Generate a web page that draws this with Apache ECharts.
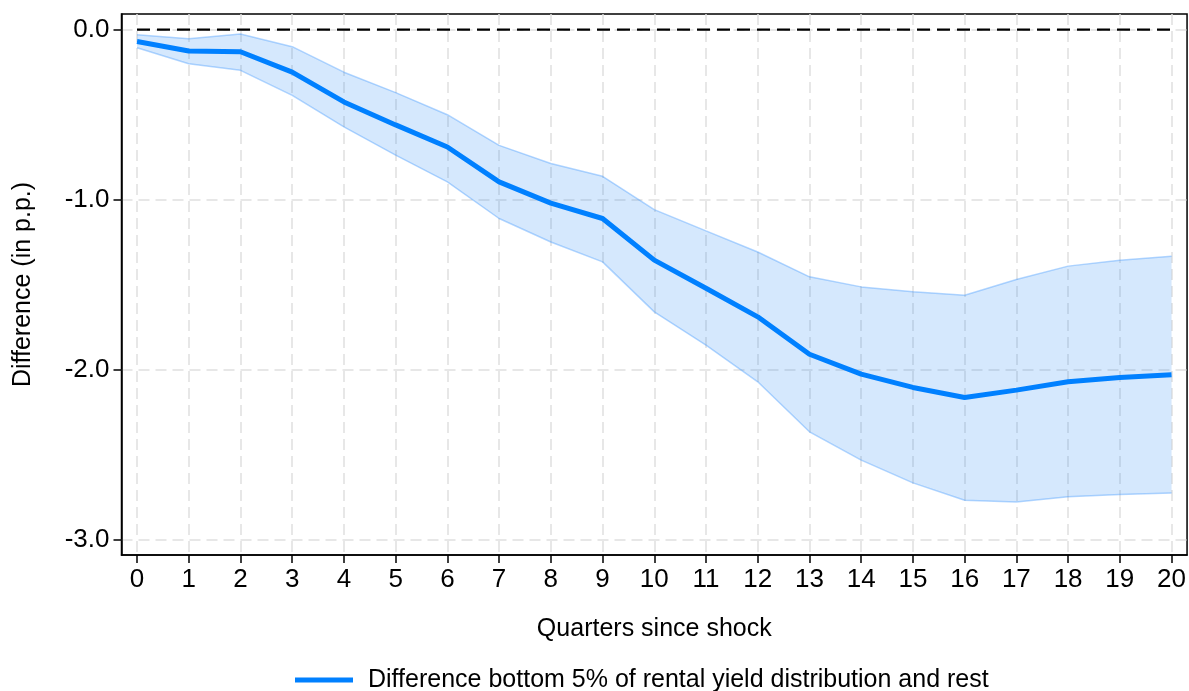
<!DOCTYPE html>
<html>
<head>
<meta charset="utf-8">
<script src="https://cdn.jsdelivr.net/npm/echarts@6/dist/echarts.min.js"></script>
<style>
  html, body { margin: 0; padding: 0; background: #fff; }
  #chart { width: 1189px; height: 691px; }
</style>
</head>
<body>
<div id="chart"></div>
<script>
// Quarters since the shock (x axis)
const quarters = [0, 1, 2, 3, 4, 5, 6, 7, 8, 9, 10, 11, 12, 13, 14, 15, 16, 17, 18, 19, 20];

// Point estimate of the difference (p.p.)
const estimate = [-0.07, -0.125, -0.13, -0.25, -0.425, -0.56, -0.69, -0.895, -1.02, -1.11,
                  -1.355, -1.52, -1.688, -1.908, -2.025, -2.103, -2.162, -2.119, -2.07, -2.045, -2.029];

// Upper and lower bounds of the confidence band
const upperBound = [-0.03, -0.053, -0.026, -0.10, -0.25, -0.37, -0.50, -0.68, -0.787, -0.862,
                    -1.058, -1.183, -1.307, -1.453, -1.512, -1.54, -1.561, -1.469, -1.39, -1.355, -1.332];
const lowerBound = [-0.106, -0.20, -0.239, -0.386, -0.572, -0.738, -0.895, -1.11, -1.248, -1.365,
                    -1.659, -1.855, -2.07, -2.364, -2.53, -2.664, -2.766, -2.776, -2.746, -2.732, -2.723];

// Tick positions
const xTicks = quarters.slice();
const yTicks = [0, -1, -2, -3];

const seriesName = 'Difference bottom 5% of rental yield distribution and rest';
const FONT = '"Liberation Sans", Arial, Helvetica, sans-serif';

const bandData = quarters.map((q, i) => [q, lowerBound[i], upperBound[i]]);
const upperData = quarters.map((q, i) => [q, upperBound[i]]);
const lowerData = quarters.map((q, i) => [q, lowerBound[i]]);
const estData = quarters.map((q, i) => [q, estimate[i]]);
const zeroData = [[quarters[0], 0], [quarters[quarters.length - 1], 0]];

const gridDash = { color: '#e0e0e0', width: 1.5, type: [11, 6] };
const bandEdge = { color: 'rgba(60,150,255,0.38)', width: 1.5 };

// Confidence band drawn as one polygon: upper bound left-to-right, lower bound back
function renderBand(params, api) {
  if (params.dataIndex !== 0) return null;
  const pts = [];
  for (let i = 0; i < bandData.length; i++) {
    pts.push(api.coord([bandData[i][0], bandData[i][2]]));
  }
  for (let i = bandData.length - 1; i >= 0; i--) {
    pts.push(api.coord([bandData[i][0], bandData[i][1]]));
  }
  return {
    type: 'polygon',
    shape: { points: pts },
    style: { fill: 'rgba(30,135,245,0.19)', stroke: null }
  };
}

const chart = echarts.init(document.getElementById('chart'), null, { renderer: 'canvas' });
chart.setOption({
  animation: false,
  backgroundColor: '#ffffff',
  textStyle: { fontFamily: FONT },
  grid: {
    left: 121.5, right: 1.5, top: 14, bottom: 136,
    show: true, borderColor: '#000', borderWidth: 1.5, backgroundColor: 'transparent'
  },
  legend: {
    data: [seriesName],
    left: 290, top: 662,
    icon: 'rect', itemWidth: 58, itemHeight: 5,
    textStyle: { fontSize: 25, color: '#000', fontFamily: FONT, padding: [0, 0, 0, 10], lineHeight: 26 }
  },
  xAxis: {
    type: 'value',
    min: -0.3, max: 20.3,
    name: 'Quarters since shock',
    nameLocation: 'middle',
    nameGap: 62,
    nameTextStyle: { fontSize: 25, color: '#000', fontFamily: FONT },
    axisLine: { show: true, onZero: false, lineStyle: { color: '#000', width: 1.5 } },
    axisTick: { show: true, length: 8, customValues: xTicks, lineStyle: { color: '#000', width: 1.5 } },
    axisLabel: { customValues: xTicks, fontSize: 26, color: '#000', margin: 12, fontFamily: FONT,
                 formatter: v => String(v) },
    splitLine: { show: true, lineStyle: gridDash }
  },
  yAxis: {
    type: 'value',
    min: -3.088, max: 0.092,
    name: 'Difference (in p.p.)',
    nameLocation: 'middle',
    nameGap: 86,
    nameTextStyle: { fontSize: 25, color: '#000', fontFamily: FONT },
    axisLine: { show: true, onZero: false, lineStyle: { color: '#000', width: 1.5 } },
    axisTick: { show: true, length: 8, customValues: yTicks, lineStyle: { color: '#000', width: 1.5 } },
    axisLabel: { customValues: yTicks, fontSize: 26, color: '#000', margin: 12, fontFamily: FONT,
                 formatter: v => v.toFixed(1) },
    splitLine: { show: true, lineStyle: gridDash }
  },
  series: [
    {
      name: 'band',
      type: 'custom',
      data: bandData,
      encode: { x: 0, y: [1, 2] },
      renderItem: renderBand,
      silent: true,
      z: 2
    },
    {
      name: 'upper',
      type: 'line',
      data: upperData,
      symbol: 'none',
      lineStyle: bandEdge,
      z: 2
    },
    {
      name: 'lower',
      type: 'line',
      data: lowerData,
      symbol: 'none',
      lineStyle: bandEdge,
      z: 2
    },
    {
      name: 'zero',
      type: 'line',
      data: zeroData,
      symbol: 'none',
      lineStyle: { color: '#000', width: 2.4, type: [13, 7] },
      z: 3
    },
    {
      name: seriesName,
      type: 'line',
      data: estData,
      symbol: 'none',
      color: '#0080ff',
      lineStyle: { color: '#0080ff', width: 5 },
      z: 4
    }
  ]
});
</script>
</body>
</html>
